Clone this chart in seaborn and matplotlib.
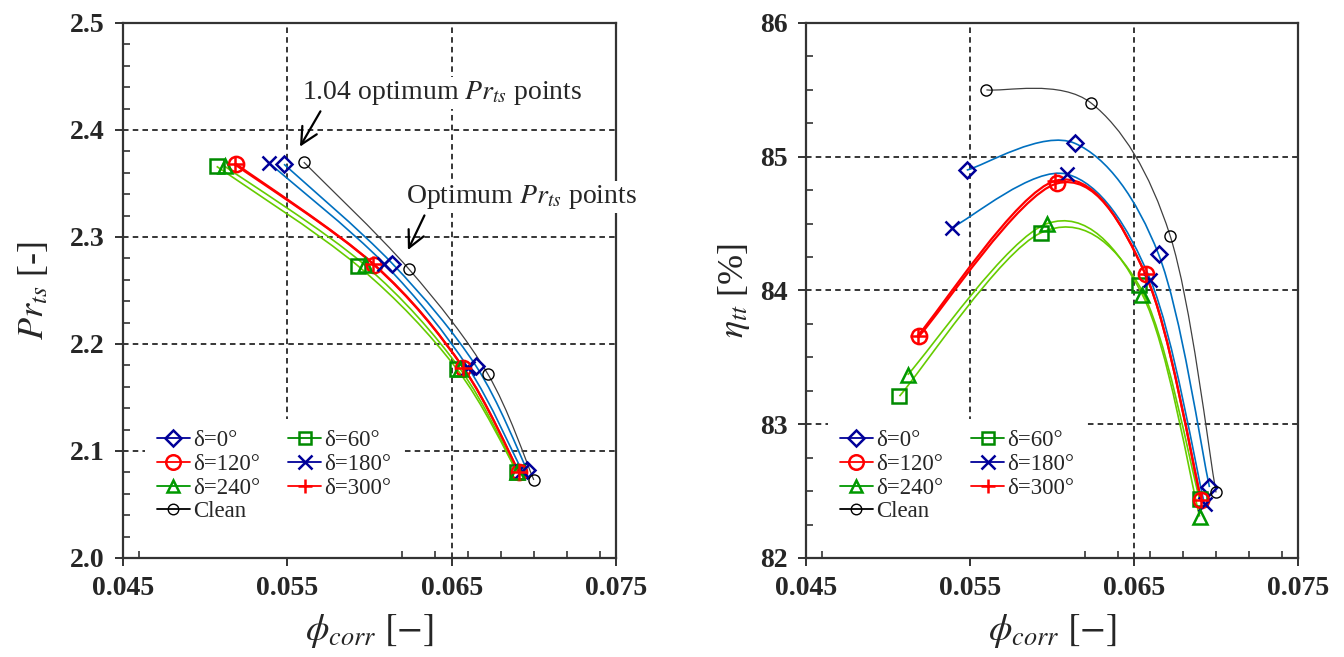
import numpy as np
import matplotlib
matplotlib.use("Agg")
import matplotlib.pyplot as plt
import seaborn as sns
from matplotlib.path import Path
from matplotlib.patches import PathPatch
from matplotlib.lines import Line2D
from matplotlib.ticker import MultipleLocator

# ---------------- data ----------------
labels = ["δ=0°", "δ=60°", "δ=120°", "δ=180°", "δ=240°", "δ=300°", "Clean"]

phi_d0 = [0.0548, 0.0614, 0.0665, 0.0696]
phi_d60 = [0.0507, 0.0593, 0.0653, 0.0690]
phi_d120 = [0.0519, 0.0603, 0.0657, 0.0691]
phi_d180 = [0.0539, 0.0609, 0.0660, 0.0693]
phi_d240 = [0.0512, 0.0597, 0.0655, 0.0690]
phi_d300 = [0.0518, 0.0602, 0.0657, 0.0691]
phi_clean = [0.0560, 0.0624, 0.0672, 0.0700]

pr_d0 = [2.368, 2.275, 2.179, 2.082]
pr_d60 = [2.366, 2.273, 2.177, 2.080]
pr_d120 = [2.368, 2.274, 2.178, 2.080]
pr_d180 = [2.369, 2.275, 2.178, 2.081]
pr_d240 = [2.366, 2.274, 2.177, 2.080]
pr_d300 = [2.368, 2.275, 2.178, 2.080]
pr_clean = [2.370, 2.270, 2.172, 2.073]

eta_d0 = [84.90, 85.10, 84.27, 82.53]
eta_d60 = [83.21, 84.43, 84.04, 82.44]
eta_d120 = [83.66, 84.80, 84.12, 82.43]
eta_d180 = [84.47, 84.87, 84.08, 82.40]
eta_d240 = [83.37, 84.50, 83.97, 82.31]
eta_d300 = [83.66, 84.82, 84.12, 82.43]
eta_clean = [85.50, 85.40, 84.41, 82.49]

phi_ticks = [0.045, 0.055, 0.065, 0.075]
pr_ticks = [2.0, 2.1, 2.2, 2.3, 2.4, 2.5]
eta_ticks = [82, 83, 84, 85, 86]

phis = [phi_d0, phi_d60, phi_d120, phi_d180, phi_d240, phi_d300, phi_clean]
prs = [pr_d0, pr_d60, pr_d120, pr_d180, pr_d240, pr_d300, pr_clean]
etas = [eta_d0, eta_d60, eta_d120, eta_d180, eta_d240, eta_d300, eta_clean]

# ---------------- styles ----------------
markers = ["D", "s", "o", "x", "^", "+", "o"]
mcolors = ["#000099", "#008A00", "#FF0000", "#000099", "#009900", "#FF0000", "#000000"]
lcolors = ["#0070C0", "#66CC00", "#FF0000", "#0070C0", "#66CC00", "#FF0000", "#404040"]
lwidths = [1.2, 1.2, 1.6, 1.2, 1.2, 1.6, 0.9]
msizes = [8.5, 9.5, 11, 10, 9.5, 11, 8]
mews = [1.8, 1.8, 1.8, 1.8, 1.8, 1.8, 1.0]

sns.set_theme(style="white")
plt.rcParams["font.family"] = ["Liberation Serif", "DejaVu Serif"]
plt.rcParams["mathtext.fontset"] = "stix"
plt.rcParams["lines.scale_dashes"] = False

fig = plt.figure(figsize=(13.44, 6.57), dpi=100)
axL = fig.add_axes([0.0915, 0.1507, 0.3668, 0.8143])
axR = fig.add_axes([0.5997, 0.1507, 0.3661, 0.8143])


def smooth_path(x, y):
    P = np.column_stack([x, y]).astype(float)
    n = len(P)
    verts = [P[0]]
    codes = [Path.MOVETO]
    for i in range(n - 1):
        p0 = P[i - 1] if i > 0 else P[i]
        p1 = P[i]
        p2 = P[i + 1]
        p3 = P[i + 2] if i + 2 < n else P[i + 1]
        c1 = p1 + (p2 - p0) / 6.0
        c2 = p2 - (p3 - p1) / 6.0
        verts += [c1, c2, p2]
        codes += [Path.CURVE4] * 3
    return Path(verts, codes)


def draw(ax, ys_all):
    for i in range(len(labels)):
        x = phis[i]
        y = ys_all[i]
        ax.add_patch(PathPatch(smooth_path(x, y), facecolor="none",
                               edgecolor=lcolors[i], lw=lwidths[i], zorder=2))
    for i in range(len(labels)):
        x = phis[i]
        y = ys_all[i]
        sns.lineplot(x=x, y=y, ax=ax, sort=False, estimator=None, legend=False,
                     linestyle="none", marker=markers[i], color=mcolors[i],
                     markerfacecolor="none", markeredgecolor=mcolors[i],
                     markersize=msizes[i], markeredgewidth=mews[i], zorder=3)


def style(ax, yticks, yminor):
    ax.set_xlim(phi_ticks[0], phi_ticks[-1])
    ax.set_ylim(yticks[0], yticks[-1])
    ax.set_xticks(phi_ticks)
    ax.set_xticklabels([f"{t:.3f}" for t in phi_ticks])
    ax.set_yticks(yticks)
    ax.xaxis.set_minor_locator(MultipleLocator(0.002))
    ax.yaxis.set_minor_locator(MultipleLocator(yminor))
    ax.tick_params(axis="both", which="major", direction="out", length=6,
                   width=1.4, color="#333333", labelsize=20, pad=7,
                   bottom=True, left=True, top=False, right=False)
    ax.tick_params(axis="both", which="minor", direction="in", length=5,
                   width=1.2, color="#333333", bottom=True, left=True,
                   top=False, right=False)
    for lab in ax.get_xticklabels() + ax.get_yticklabels():
        lab.set_fontweight("bold")
    for s in ax.spines.values():
        s.set_visible(True)
        s.set_color("#333333")
        s.set_linewidth(1.6)
    for xv in phi_ticks[1:-1]:
        ax.axvline(xv, color="black", lw=1.1, ls=(0, (4, 3)), zorder=1)
    for yv in yticks[1:-1]:
        ax.axhline(yv, color="black", lw=1.1, ls=(0, (4, 3)), zorder=1)
    ax.set_xlabel(r"$\phi_{corr}\ [-]$", fontsize=27, labelpad=8)


def legend(ax):
    order = [0, 2, 4, 6, 1, 3, 5]
    handles = []
    for i in order:
        handles.append(Line2D([0], [0], color=mcolors[i], lw=1.3,
                              marker=markers[i], mfc="none", mec=mcolors[i],
                              ms=msizes[i] * 0.95, mew=mews[i]))
    leg = ax.legend(handles, [labels[i] for i in order], ncol=2,
                    loc="lower left", bbox_to_anchor=(0.045, 0.0),
                    borderaxespad=0.0, frameon=True, fontsize=16.5,
                    handlelength=1.45, handletextpad=0.15, columnspacing=1.2,
                    labelspacing=0.12, borderpad=0.5)
    leg.get_frame().set_facecolor("white")
    leg.get_frame().set_edgecolor("none")
    leg.get_frame().set_alpha(1.0)
    # push content up a little so the box reaches the bottom spine
    leg._legend_box.set_offset  # keep default packing
    leg.set_zorder(2.2)
    return leg


draw(axL, prs)
style(axL, pr_ticks, 0.02)
axL.set_ylabel(r"$Pr_{ts}$ [-]", fontsize=26, labelpad=14)
legL = legend(axL)

draw(axR, etas)
style(axR, eta_ticks, 0.25)
axR.set_ylabel(r"$\eta_{tt}$ [%]", fontsize=26, labelpad=6)
legR = legend(axR)

for leg in (legL, legR):
    leg.set_bbox_to_anchor((0.045, 0.045), transform=leg.axes.transAxes)

# white cover below each legend, reaching the bottom spine
for ax in (axL, axR):
    ax.axvspan(0.0467, 0.0603, ymin=0.0, ymax=0.06, facecolor="white",
               edgecolor="none", zorder=1.5)

bb = dict(facecolor="white", edgecolor="none", pad=1.5)
axL.annotate(r"1.04 optimum $Pr_{ts}$ points", xy=(0.05577, 2.3844),
             xytext=(0.05589, 2.4346), textcoords="data", fontsize=20,
             ha="left", va="center", bbox=bb, zorder=6, annotation_clip=False,
             arrowprops=dict(arrowstyle="->,head_length=0.6,head_width=0.3",
                             color="black", lw=1.6,
                             relpos=(0.075, 0.0), shrinkA=2, shrinkB=0))
axL.annotate(r"Optimum $Pr_{ts}$ points", xy=(0.06234, 2.2878),
             xytext=(0.06221, 2.3374), textcoords="data", fontsize=20,
             ha="left", va="center", bbox=bb, zorder=6, annotation_clip=False,
             arrowprops=dict(arrowstyle="->,head_length=0.6,head_width=0.3",
                             color="black", lw=1.6,
                             relpos=(0.09, 0.0), shrinkA=2, shrinkB=0))

fig.savefig("out.png", dpi=100)
